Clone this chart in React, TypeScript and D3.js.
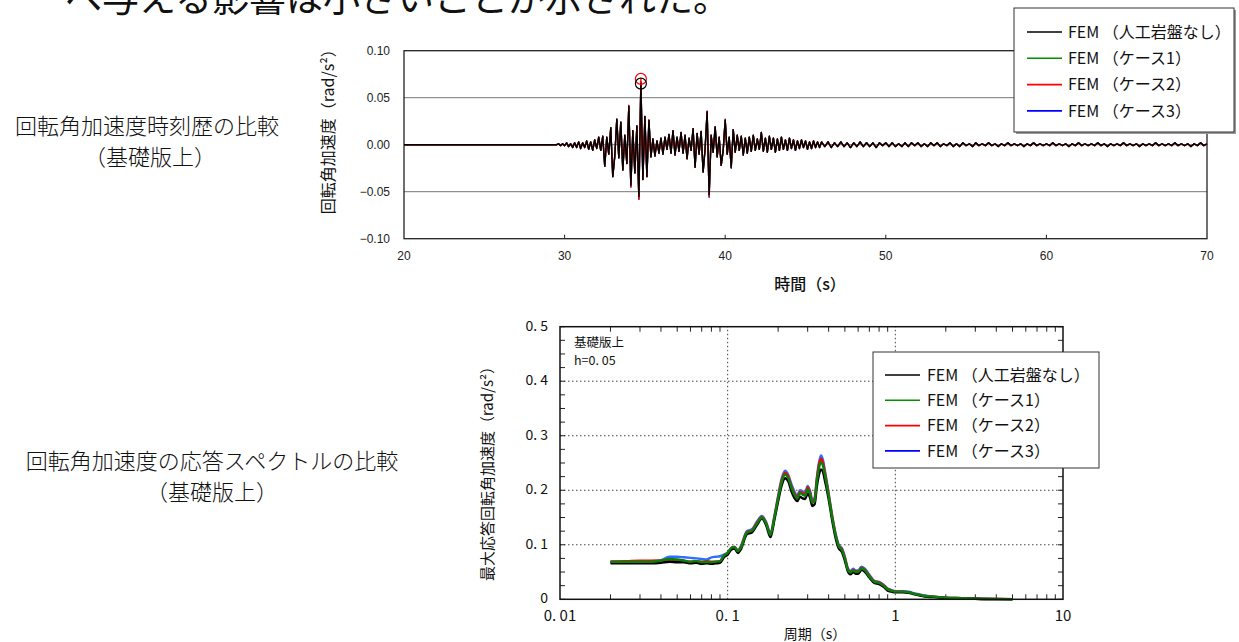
import React from "react";
import * as d3 from "d3";

const FONT_JP = "'Noto Sans CJK JP', 'Noto Sans', sans-serif";
const FONT_LAT = "'Liberation Sans', Arial, sans-serif";

// ---------- Time history (top chart) ----------
const histStart = 29.5;
const histStep = 0.125;
const historyMain = [
  0.0, 0.001, -0.001, 0.001, -0.001, 0.002, -0.002, 0.001, -0.003, 0.002,
  -0.003, 0.003, -0.004, 0.002, -0.003, 0.004, -0.005, 0.003, -0.006, 0.005,
  -0.004, 0.008, -0.006, 0.009, -0.023, 0.008, -0.01, 0.018, -0.034, -0.012,
  0.027, -0.014, 0.024, -0.027, 0.01, -0.02, 0.041, -0.043, 0.015, -0.03,
  0.02, -0.055, 0.065, -0.037, 0.03, -0.034, 0.026, -0.013, 0.006, -0.012,
  0.004, -0.009, 0.007, -0.01, 0.008, -0.005, 0.011, -0.009, 0.015, -0.011,
  0.008, -0.007, 0.013, -0.009, 0.01, -0.015, 0.007, -0.006, 0.017, -0.024,
  0.012, -0.01, 0.014, -0.029, -0.004, 0.035, -0.053, 0.01, -0.008, 0.019,
  -0.013, 0.008, -0.022, -0.006, 0.026, -0.01, 0.008, -0.024, 0.016, -0.008,
  0.01, -0.006, 0.009, -0.011, 0.007, -0.009, 0.008, -0.007, 0.01, -0.006,
  0.006, -0.005, 0.013, -0.007, 0.007, -0.008, 0.009, -0.005, 0.007, -0.008,
  0.006, -0.006, 0.008, -0.005, 0.005, -0.006, 0.007, -0.004, 0.005, -0.006,
  0.004, -0.004, 0.005, -0.003, 0.004, -0.005, 0.003, -0.004, 0.004, -0.003,
  0.003, -0.003,
];
const tailStart = 46.0;
const tailStep = 0.2;
const historyTail = [
  0.003, -0.002, 0.003, -0.003, 0.002, -0.002, 0.003, -0.002, 0.002, -0.003,
  0.002, -0.002, 0.003, -0.002, 0.002, -0.002, 0.002, -0.003, 0.002, -0.001,
  0.002, -0.002, 0.002, -0.002, 0.001, -0.002, 0.002, -0.002, 0.002, -0.001,
  0.002, -0.002, 0.001, -0.002, 0.002, -0.001, 0.002, -0.002, 0.001, -0.001,
  0.002, -0.002, 0.001, -0.002, 0.002, -0.001, 0.001, -0.002, 0.002, -0.001,
  0.001, -0.001, 0.002, -0.001, 0.001, -0.002, 0.001, -0.001, 0.002, -0.001,
  0.001, -0.001, 0.001, -0.002, 0.001, -0.001, 0.002, -0.001, 0.001, -0.001,
  0.001, -0.001, 0.002, -0.001, 0.001, -0.001, 0.001, -0.002, 0.001, -0.001,
  0.002, -0.001, 0.001, -0.001, 0.001, -0.001, 0.002, -0.001, 0.001, -0.002,
  0.001, -0.001, 0.001, -0.001, 0.002, -0.001, 0.001, -0.001, 0.001, -0.002,
  0.001, -0.001, 0.001, -0.001, 0.002, -0.001, 0.001, -0.001, 0.001, -0.001,
  0.002, -0.001, 0.001, -0.001, 0.001, -0.002, 0.001, -0.001, 0.002, -0.001,
  0.001,
];
// peak values of the cases that differ from the base record (index into historyMain, value)
const case1Peaks: [number, number][] = [[42, 0.066], [41, -0.056], [76, -0.054], [37, -0.044]];
const case2Peaks: [number, number][] = [[42, 0.07], [41, -0.058], [76, -0.055], [37, -0.045], [36, 0.042], [75, 0.036]];
const case3Peaks: [number, number][] = [[42, 0.067], [41, -0.058], [76, -0.056], [37, -0.045], [84, 0.027], [87, -0.025]];
const peakMarks: [number, number, string][] = [[34.75, 0.07, "#ff0000"], [34.75, 0.065, "#000000"]];

const timeTicks = [20, 30, 40, 50, 60, 70];
const accTicks = [-0.1, -0.05, 0, 0.05, 0.1];
const accTickLabels = ["\u22120.10", "\u22120.05", "0.00", "0.05", "0.10"];

// ---------- Response spectra (bottom chart) ----------
const periods = [
  0.02, 0.025, 0.03, 0.035, 0.04, 0.045, 0.05, 0.055, 0.06, 0.065,
  0.07, 0.075, 0.08, 0.085, 0.09, 0.095, 0.1, 0.105, 0.11, 0.115,
  0.12, 0.13, 0.14, 0.15, 0.16, 0.17, 0.18, 0.19, 0.2, 0.21,
  0.22, 0.23, 0.24, 0.25, 0.26, 0.27, 0.28, 0.29, 0.3, 0.31,
  0.32, 0.33, 0.34, 0.35, 0.36, 0.37, 0.38, 0.39, 0.4, 0.42,
  0.44, 0.46, 0.48, 0.5, 0.52, 0.54, 0.56, 0.58, 0.6, 0.63,
  0.66, 0.7, 0.75, 0.8, 0.85, 0.9, 0.95, 1.0, 1.1, 1.2,
  1.3, 1.4, 1.5, 1.7, 2.0, 2.5, 3.0, 4.0, 5.0,
];
const specBase = [
  0.066, 0.066, 0.066, 0.066, 0.067, 0.069, 0.068, 0.068, 0.066, 0.067,
  0.065, 0.066, 0.065, 0.066, 0.067, 0.077, 0.082, 0.091, 0.093, 0.085,
  0.092, 0.119, 0.123, 0.137, 0.148, 0.135, 0.114, 0.146, 0.18, 0.209,
  0.222, 0.216, 0.198, 0.186, 0.18, 0.188, 0.185, 0.184, 0.194, 0.186,
  0.171, 0.174, 0.206, 0.228, 0.238, 0.234, 0.218, 0.202, 0.184, 0.145,
  0.113, 0.093, 0.087, 0.071, 0.052, 0.046, 0.05, 0.047, 0.047, 0.054,
  0.05, 0.04, 0.03, 0.028, 0.023, 0.016, 0.014, 0.013, 0.013, 0.012,
  0.009, 0.007, 0.005, 0.004, 0.002, 0.001, 0.001, 0.0004, 0.0002,
];
const specCase1 = [
  0.069, 0.069, 0.069, 0.069, 0.071, 0.074, 0.073, 0.071, 0.069, 0.07,
  0.068, 0.069, 0.068, 0.069, 0.07, 0.08, 0.085, 0.094, 0.096, 0.088,
  0.095, 0.122, 0.126, 0.14, 0.15, 0.138, 0.118, 0.15, 0.185, 0.215,
  0.229, 0.222, 0.205, 0.192, 0.185, 0.195, 0.192, 0.19, 0.202, 0.193,
  0.177, 0.18, 0.215, 0.24, 0.252, 0.245, 0.228, 0.21, 0.19, 0.15,
  0.118, 0.097, 0.091, 0.075, 0.055, 0.049, 0.053, 0.05, 0.05, 0.057,
  0.053, 0.042, 0.032, 0.03, 0.025, 0.018, 0.016, 0.014, 0.014, 0.013,
  0.01, 0.008, 0.006, 0.005, 0.003, 0.002, 0.001, 0.0005, 0.0003,
];
const specCase2 = [
  0.069, 0.07, 0.071, 0.071, 0.071, 0.073, 0.072, 0.071, 0.069, 0.07,
  0.069, 0.07, 0.069, 0.069, 0.07, 0.08, 0.085, 0.094, 0.096, 0.088,
  0.096, 0.123, 0.127, 0.141, 0.151, 0.139, 0.119, 0.151, 0.187, 0.218,
  0.232, 0.225, 0.207, 0.194, 0.188, 0.197, 0.195, 0.193, 0.205, 0.196,
  0.179, 0.183, 0.219, 0.246, 0.258, 0.251, 0.232, 0.213, 0.192, 0.152,
  0.119, 0.098, 0.092, 0.076, 0.056, 0.05, 0.054, 0.051, 0.051, 0.058,
  0.054, 0.043, 0.033, 0.031, 0.026, 0.019, 0.016, 0.014, 0.014, 0.013,
  0.01, 0.008, 0.006, 0.005, 0.003, 0.002, 0.001, 0.0005, 0.0003,
];
const specCase3 = [
  0.069, 0.069, 0.069, 0.07, 0.072, 0.078, 0.078, 0.077, 0.076, 0.075,
  0.074, 0.073, 0.077, 0.078, 0.079, 0.082, 0.086, 0.092, 0.094, 0.09,
  0.098, 0.125, 0.129, 0.143, 0.153, 0.141, 0.121, 0.153, 0.19, 0.222,
  0.236, 0.228, 0.211, 0.198, 0.191, 0.2, 0.198, 0.196, 0.208, 0.199,
  0.182, 0.186, 0.222, 0.25, 0.264, 0.256, 0.236, 0.216, 0.195, 0.154,
  0.121, 0.1, 0.094, 0.078, 0.058, 0.052, 0.056, 0.053, 0.053, 0.06,
  0.056, 0.045, 0.034, 0.032, 0.027, 0.02, 0.017, 0.015, 0.015, 0.014,
  0.011, 0.009, 0.007, 0.005, 0.003, 0.002, 0.001, 0.0005, 0.0003,
];
const periodTicks = [0.01, 0.1, 1, 10];
const periodTickLabels = ["0. 01", "0. 1", "1", "10"];
const specTicks = [0, 0.1, 0.2, 0.3, 0.4, 0.5];
const specTickLabels = ["0", "0. 1", "0. 2", "0. 3", "0. 4", "0. 5"];

const seriesNames = ["FEM （人工岩盤なし）", "FEM （ケース1）", "FEM （ケース2）", "FEM （ケース3）"];
const legendColors = ["#000000", "#009000", "#ff0000", "#0000ff"];
const specColors = ["#000000", "#0a800a", "#ff0000", "#2f6fff"];

type Pt = { t: number; v: number };

function buildHistory(peaks: [number, number][]): Pt[] {
  const main = historyMain.slice();
  peaks.forEach(([i, v]) => (main[i] = v));
  return [
    { t: 20, v: 0 },
    ...main.map((v, i) => ({ t: histStart + i * histStep, v })),
    ...historyTail.map((v, i) => ({ t: tailStart + i * tailStep, v })),
  ];
}

export default function App() {
  // ---- top chart scales ----
  const tx = d3.scaleLinear().domain([20, 70]).range([404, 1207]);
  const ty = d3.scaleLinear().domain([-0.1, 0.1]).range([238.7, 50.7]);
  const hLine = d3
    .line<Pt>()
    .x((d) => tx(d.t))
    .y((d) => ty(d.v));
  const histories = [
    { data: buildHistory(case3Peaks), color: "#0000ff" },
    { data: buildHistory(case1Peaks), color: "#008000" },
    { data: buildHistory(case2Peaks), color: "#ff0000" },
    { data: buildHistory([]), color: "#000000" },
  ];

  // ---- bottom chart scales ----
  const sx = d3.scaleLog().domain([0.01, 10]).range([560, 1063]);
  const sy = d3.scaleLinear().domain([0, 0.5]).range([599.3, 326.7]);
  const sLine = d3
    .line<number>()
    .x((_, i) => sx(periods[i]))
    .y((d) => sy(d))
    .curve(d3.curveMonotoneX);
  const specSeries = [
    { data: specCase3, color: specColors[3] },
    { data: specCase2, color: specColors[2] },
    { data: specBase, color: specColors[0] },
    { data: specCase1, color: specColors[1] },
  ];
  const minorX: number[] = [];
  [0.01, 0.1, 1].forEach((d) => {
    for (let k = 2; k <= 9; k++) minorX.push(k * d);
  });
  const minorY = d3.range(0, 21).map((i) => i * 0.025);

  const [sx0, sx1] = sx.range();
  const [sy0, sy1] = sy.range();

  return (
    <svg
      width={1239}
      height={642}
      style={{ position: "absolute", left: 0, top: 0, background: "#fff" }}
    >
      {/* cut-off heading */}
      <text x={65} y={12} fontFamily={FONT_JP} fontSize={37} fill="#111">
        へ与える影響は小さいことが示された。
      </text>

      {/* left captions */}
      <g fontFamily={FONT_JP} fontSize={22} fill="#111" textAnchor="middle" fontWeight={300}>
        <text x={147} y={134}>回転角加速度時刻歴の比較</text>
        <text x={150} y={165}>（基礎版上）</text>
        <text x={212} y={469}>回転角加速度の応答スペクトルの比較</text>
        <text x={212} y={500}>（基礎版上）</text>
      </g>

      {/* ===== Top chart ===== */}
      <g>
        {accTicks
          .filter((v) => v !== 0.1 && v !== -0.1)
          .map((v) => (
            <line key={v} x1={tx(20)} x2={tx(70)} y1={ty(v)} y2={ty(v)} stroke="#777" strokeWidth={1} />
          ))}
        <rect
          x={tx(20)}
          y={ty(0.1)}
          width={tx(70) - tx(20)}
          height={ty(-0.1) - ty(0.1)}
          fill="none"
          stroke="#222"
          strokeWidth={1.3}
        />
        {timeTicks.slice(1, -1).map((t) => (
          <line key={t} x1={tx(t)} x2={tx(t)} y1={ty(-0.1)} y2={ty(-0.1) - 4} stroke="#222" />
        ))}
        {histories.map((h, i) => (
          <path key={i} d={hLine(h.data) || ""} fill="none" stroke={h.color} strokeWidth={1.4} strokeLinejoin="round" />
        ))}
        {peakMarks.map(([t, v, c], i) => (
          <circle key={i} cx={tx(t)} cy={ty(v)} r={5.5} fill="none" stroke={c} strokeWidth={1.2} />
        ))}
        <g fontFamily={FONT_LAT} fontSize={12} fill="#222" textAnchor="end">
          {accTicks.map((v, i) => (
            <text key={v} x={390} y={ty(v)} dy="0.35em">
              {accTickLabels[i]}
            </text>
          ))}
        </g>
        <g fontFamily={FONT_LAT} fontSize={12} fill="#222" textAnchor="middle">
          {timeTicks.map((t) => (
            <text key={t} x={tx(t)} y={260}>
              {t}
            </text>
          ))}
        </g>
        <text x={810} y={290} fontFamily={FONT_JP} fontSize={16} fontWeight={500} textAnchor="middle" fill="#111">
          時間（s）
        </text>
        <text
          transform={`translate(334,${ty(0) - 17}) rotate(-90)`}
          fontFamily={FONT_JP}
          fontSize={16}
          textAnchor="middle"
          fill="#111"
        >
          回転角加速度（rad/s²）
        </text>
        {/* legend */}
        <rect x={1016} y={10} width={220} height={124} fill="#999" />
        <rect x={1014} y={8} width={220} height={124} fill="#fff" stroke="#333" strokeWidth={1} />
        {seriesNames.map((n, i) => (
          <g key={n}>
            <line x1={1027} x2={1062} y1={32 + i * 26.3} y2={32 + i * 26.3} stroke={legendColors[i]} strokeWidth={1.6} />
            <text x={1068} y={32 + i * 26.3} dy="0.36em" fontFamily={FONT_JP} fontSize={16} fill="#111">
              {n}
            </text>
          </g>
        ))}
      </g>

      {/* ===== Bottom chart ===== */}
      <g>
        {specTicks.slice(1, -1).map((v) => (
          <line key={v} x1={sx0} x2={sx1} y1={sy(v)} y2={sy(v)} stroke="#444" strokeWidth={1} strokeDasharray="1.5,2.5" />
        ))}
        {[0.1, 1].map((p) => (
          <line key={p} x1={sx(p)} x2={sx(p)} y1={sy0} y2={sy1} stroke="#444" strokeWidth={1} strokeDasharray="1.5,2.5" />
        ))}
        {minorX.map((p) => (
          <g key={p}>
            <line x1={sx(p)} x2={sx(p)} y1={sy0} y2={sy0 - 5} stroke="#222" />
            <line x1={sx(p)} x2={sx(p)} y1={sy1} y2={sy1 + 5} stroke="#222" />
          </g>
        ))}
        {minorY.map((v) => (
          <g key={v}>
            <line x1={sx0} x2={sx0 + 5} y1={sy(v)} y2={sy(v)} stroke="#222" />
            <line x1={sx1} x2={sx1 - 5} y1={sy(v)} y2={sy(v)} stroke="#222" />
          </g>
        ))}
        {specSeries.map((s, i) => (
          <path key={i} d={sLine(s.data) || ""} fill="none" stroke={s.color} strokeWidth={2.4} strokeLinejoin="round" />
        ))}
        <rect x={sx0} y={sy1} width={sx1 - sx0} height={sy0 - sy1} fill="none" stroke="#111" strokeWidth={1.5} />
        <g fontFamily={FONT_JP} fontSize={14} fill="#111" textAnchor="end">
          {specTicks.map((v, i) => (
            <text key={v} x={548} y={sy(v) - 1} dy="0.35em">
              {specTickLabels[i]}
            </text>
          ))}
        </g>
        <g fontFamily={FONT_JP} fontSize={15} fill="#111" textAnchor="middle">
          {periodTicks.map((p, i) => (
            <text key={p} x={sx(p)} y={621}>
              {periodTickLabels[i]}
            </text>
          ))}
        </g>
        <text x={815} y={639} fontFamily={FONT_JP} fontSize={14} textAnchor="middle" fill="#111">
          周期（s）
        </text>
        <text
          transform={`translate(493,470) rotate(-90)`}
          fontFamily={FONT_JP}
          fontSize={15}
          textAnchor="middle"
          fill="#111"
        >
          最大応答回転角加速度（rad/s²）
        </text>
        <g fontFamily={FONT_JP} fontSize={12.5} fill="#111">
          <text x={574} y={347}>基礎版上</text>
          <text x={574} y={365}>h=0. 05</text>
        </g>
        {/* legend */}
        <rect x={873} y={352} width={226} height={116} fill="#fff" stroke="#333" strokeWidth={1} />
        {seriesNames.map((n, i) => (
          <g key={n}>
            <line x1={885} x2={920} y1={375 + i * 25.3} y2={375 + i * 25.3} stroke={legendColors[i]} strokeWidth={1.6} />
            <text x={927} y={375 + i * 25.3} dy="0.36em" fontFamily={FONT_JP} fontSize={16} fill="#111">
              {n}
            </text>
          </g>
        ))}
      </g>
    </svg>
  );
}
